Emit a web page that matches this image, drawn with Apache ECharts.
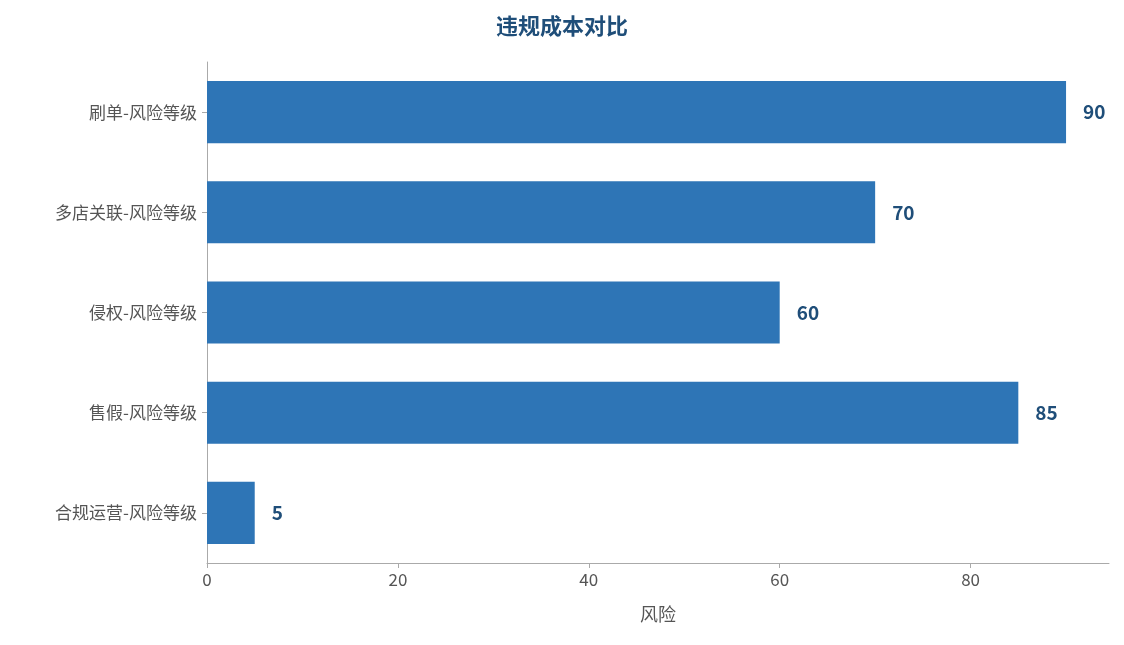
<!DOCTYPE html>
<html><head><meta charset="utf-8">
<script src="https://cdn.jsdelivr.net/npm/echarts@6/dist/echarts.min.js"></script>
<style>html,body{margin:0;padding:0;background:#fff}#c{width:1124px;height:645px}</style>
</head><body><div id="c"></div>
<script>
const categories = ['合规运营-风险等级','售假-风险等级','侵权-风险等级','多店关联-风险等级','刷单-风险等级'];
const values = [5,85,60,70,90];
const chart = echarts.init(document.getElementById('c'));
const font = '"Noto Sans CJK SC","Noto Sans",sans-serif';
chart.setOption({
  title:{text:'违规成本对比',left:'center',top:10,textStyle:{color:'#1f4e79',fontSize:22,fontWeight:'bold',fontFamily:font}},
  grid:{left:207,right:15,top:62,bottom:82},
  xAxis:{type:'value',min:0,max:94.5,interval:20,name:'风险',nameLocation:'middle',nameGap:42,
    nameTextStyle:{color:'#555',fontSize:18,fontFamily:font},
    axisLine:{show:true,lineStyle:{color:'#aaa'}},axisTick:{show:true,lineStyle:{color:'#aaa'}},
    axisLabel:{color:'#555',fontSize:17,fontFamily:font,showMaxLabel:false},splitLine:{show:false}},
  yAxis:{type:'category',data:categories,
    axisLine:{lineStyle:{color:'#aaa'}},axisTick:{show:true,alignWithLabel:true,lineStyle:{color:'#aaa'}},
    axisLabel:{color:'#555',fontSize:17,fontFamily:font,margin:10}},
  series:[{type:'bar',data:values,barWidth:'62%',itemStyle:{color:'#2e75b6'},
    label:{show:true,position:'right',distance:17,color:'#1f4e79',fontWeight:'bold',fontSize:19,fontFamily:font}}]
});
</script></body></html>
